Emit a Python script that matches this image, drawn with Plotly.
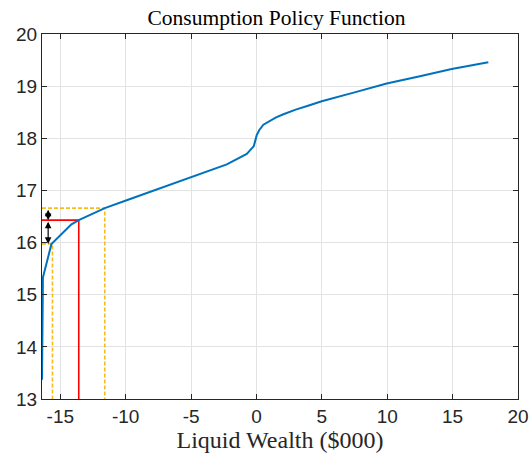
import plotly.graph_objects as go

# Consumption policy curve
wealth = [-16.4, -16.33, -15.68, -14.15, -13.59, -11.60, -9.82, -7.5, -4.95, -2.27,
          -0.74, -0.2, 0.02, 0.22, 0.53, 1.0, 1.5, 2.06, 3.0, 4.0, 4.99, 7.5, 9.96,
          12.5, 14.93, 17.73]
consumption = [13.37, 15.33, 15.97, 16.35, 16.43, 16.66, 16.82, 17.03, 17.25, 17.50,
               17.70, 17.85, 18.06, 18.16, 18.26, 18.33, 18.40, 18.46, 18.55, 18.63,
               18.71, 18.88, 19.05, 19.19, 19.33, 19.46]

x_min, x_max = -16.4, 20
y_min, y_max = 13, 20

# markers
red_x, red_y = -13.59, 16.43
ylo_x, ylo_y = -15.6, 15.975
yhi_x, yhi_y = -11.6, 16.66
arrow_x = -15.93

x_ticks = [-15, -10, -5, 0, 5, 10, 15, 20]
x_ticklabels = ["-15", "-10", "-5", "0", "5", "10", "15", "20"]
y_ticks = [13, 14, 15, 16, 17, 18, 19, 20]
y_ticklabels = ["13", "14", "15", "16", "17", "18", "19", "20"]

BLUE = "#0072BD"
RED = "#FF0000"
YELLOW = "#F8BC1C"

fig = go.Figure()

def lshape(x, y, color, dash):
    fig.add_trace(go.Scatter(x=[x_min, x, x], y=[y, y, y_min], mode="lines",
                             line=dict(color=color, width=1.6, dash=dash),
                             hoverinfo="skip", showlegend=False))

lshape(ylo_x, ylo_y, YELLOW, "4px,2px")
lshape(yhi_x, yhi_y, YELLOW, "4px,2px")
lshape(red_x, red_y, RED, "solid")

fig.add_trace(go.Scatter(x=wealth, y=consumption, mode="lines",
                         line=dict(color=BLUE, width=2), showlegend=False))

for (ya, yb) in [(yhi_y, red_y), (red_y, ylo_y)]:
    fig.add_annotation(x=arrow_x, y=yb, ax=arrow_x, ay=ya, xref="x", yref="y",
                       axref="x", ayref="y", showarrow=True, arrowside="end+start",
                       arrowhead=2, arrowsize=1.1, arrowwidth=1.2, arrowcolor="black",
                       text="")

axis_common = dict(showline=True, linecolor="#262626", linewidth=1, mirror="ticks",
                   ticks="inside", ticklen=5, tickcolor="#262626",
                   showgrid=True, gridcolor="#E3E3E3", gridwidth=1, zeroline=False,
                   automargin=False,
                   tickfont=dict(family="Liberation Sans, Arial", size=19, color="#262626"))

fig.update_xaxes(range=[x_min, x_max], tickvals=x_ticks, ticktext=x_ticklabels,
                 title=dict(text="Liquid Wealth ($000)",
                            font=dict(family="Liberation Serif, Times New Roman", size=24, color="#262626"),
                            standoff=2),
                 **axis_common)
fig.update_yaxes(range=[y_min, y_max], tickvals=y_ticks, ticktext=y_ticklabels, **axis_common)

fig.update_layout(
    width=529, height=460,
    margin=dict(l=42, r=11, t=34, b=61),
    plot_bgcolor="white", paper_bgcolor="white",
    title=dict(text="Consumption Policy Function", x=276.5 / 529, xanchor="center",
               y=1 - 17 / 460, yanchor="middle",
               font=dict(family="Liberation Serif, Times New Roman", size=21.5, color="black")),
)

fig.write_html("out.html")
